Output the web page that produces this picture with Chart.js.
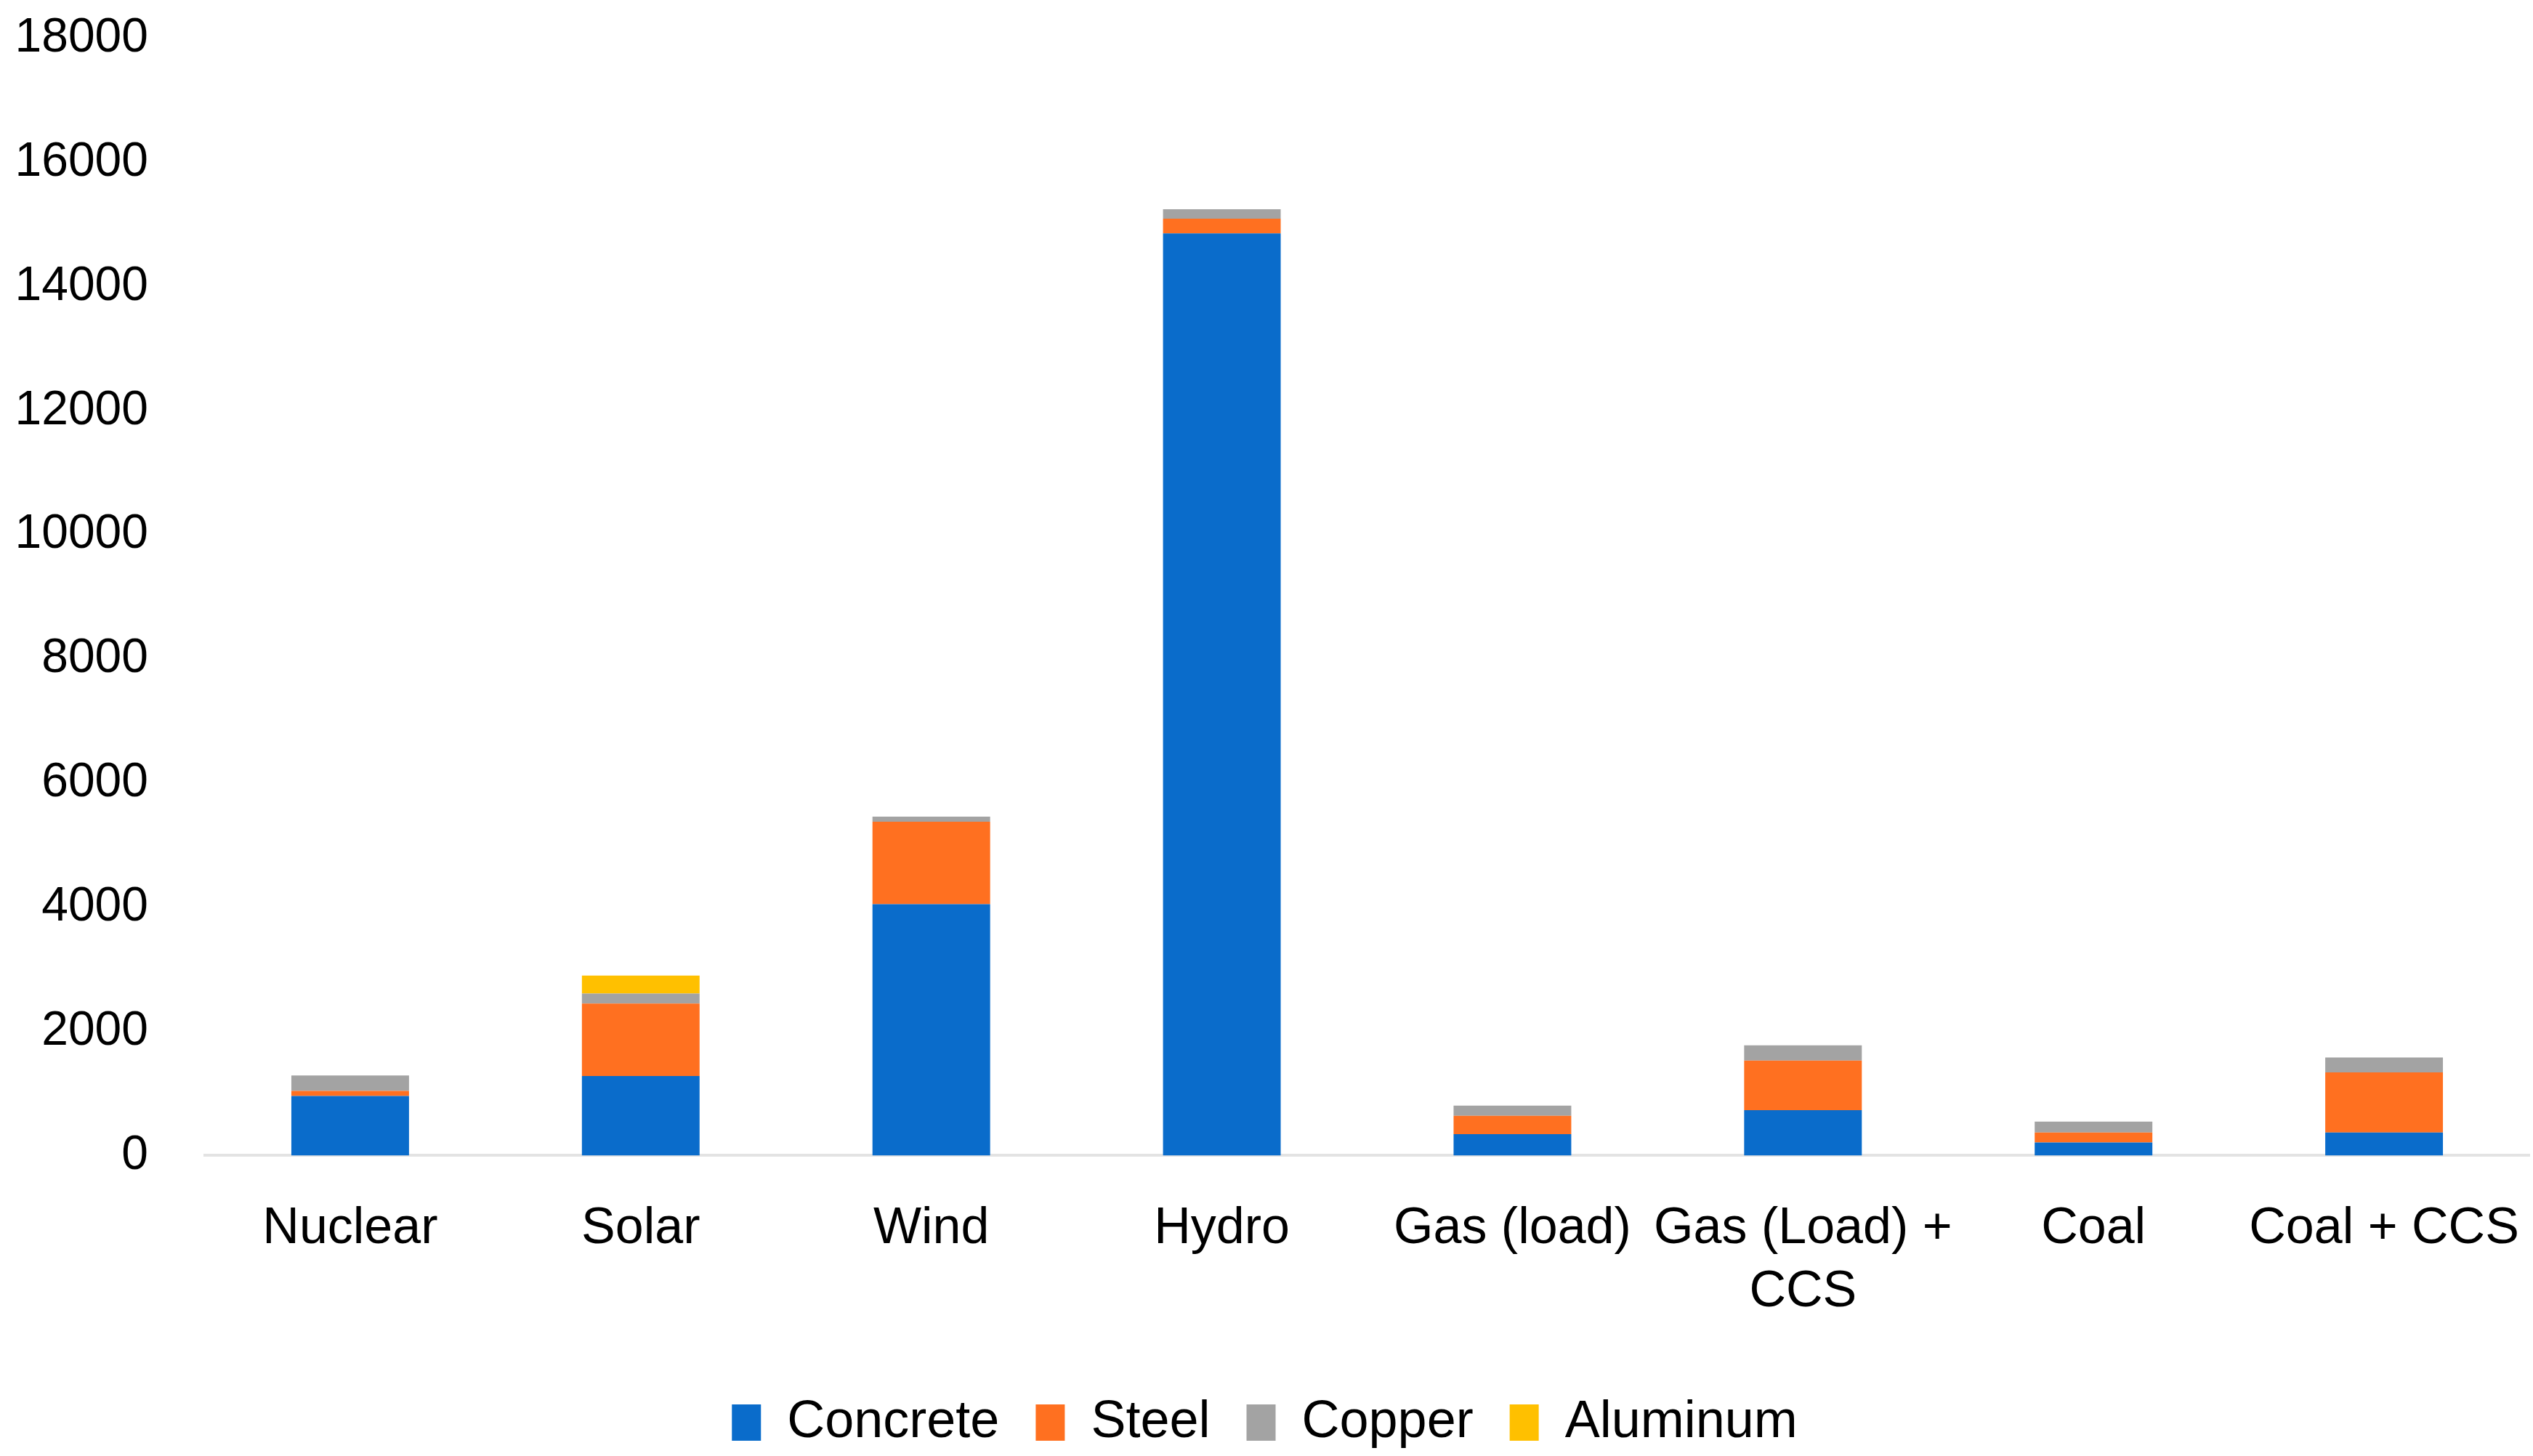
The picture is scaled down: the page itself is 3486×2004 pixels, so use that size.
<!DOCTYPE html>
<html>
<head>
<meta charset="utf-8">
<script src="https://cdn.jsdelivr.net/npm/chart.js@4.4.1/dist/chart.umd.min.js"></script>
<style>
  html, body { margin: 0; padding: 0; background: #ffffff; }
  #wrap { width: 3486px; height: 2004px; }
</style>
</head>
<body>
<div id="wrap"><canvas id="chart"></canvas></div>
<script>
// -------------------------------
// Data
// -------------------------------
const categories = ["Nuclear", "Solar", "Wind", "Hydro", "Gas (load)", ["Gas (Load) +", "CCS"], "Coal", "Coal + CCS"];
const concrete = [960, 1280, 4050, 14860, 345, 730, 210, 370];
const steel    = [80, 1170, 1330, 235, 295, 800, 160, 970];
const copper   = [250, 160, 80, 155, 165, 245, 175, 240];
const aluminum = [0, 290, 0, 0, 0, 0, 0, 0];
const yTicks = [0, 2000, 4000, 6000, 8000, 10000, 12000, 14000, 16000, 18000];

const font = "'Liberation Sans', Arial, sans-serif";

function makeSet(label, data, color) {
  return {
    label: label,
    data: data,
    backgroundColor: color,
    borderWidth: 0,
    barPercentage: 0.405,
    categoryPercentage: 1.0,
  };
}

// -------------------------------
// Stacked bar chart
// -------------------------------
const ctx = document.getElementById("chart").getContext("2d");

new Chart(ctx, {
  type: "bar",
  data: {
    labels: categories,
    datasets: [
      makeSet("Concrete", concrete, "#0a6ccb"),
      makeSet("Steel", steel, "#ff7020"),
      makeSet("Copper", copper, "#a3a3a3"),
      makeSet("Aluminum", aluminum, "#ffc000"),
    ],
  },
  options: {
    responsive: true,
    maintainAspectRatio: false,
    animation: false,
    layout: { padding: { left: 0, right: 5, top: 53, bottom: 0 } },
    plugins: {
      tooltip: { enabled: false },
      legend: {
        position: "bottom",
        labels: {
          font: { family: font, size: 72 },
          color: "#000000",
          boxWidth: 40,
          boxHeight: 50,
          padding: 50,
        },
      },
    },
    scales: {
      x: {
        stacked: true,
        grid: { display: false },
        border: { display: true, color: "#e3e3e3", width: 4 },
        ticks: {
          color: "#000000",
          font: { family: font, size: 70, lineHeight: 1.24 },
          padding: 50,
          maxRotation: 0,
          autoSkip: false,
        },
        afterFit: (scale) => {
          scale.paddingLeft = 0;
          scale.paddingRight = 0;
        },
      },
      y: {
        stacked: true,
        min: 0,
        max: 18000,
        grid: { display: false },
        border: { display: false },
        afterBuildTicks: (scale) => {
          scale.ticks = yTicks.map((v) => ({ value: v }));
        },
        afterFit: (scale) => {
          scale.width = 282;
          scale.paddingTop = 0;
          scale.paddingBottom = 0;
        },
        ticks: {
          color: "#000000",
          font: { family: font, size: 66 },
          padding: 70,
          callback: (v) => String(v),
        },
      },
    },
  },
});
</script>
</body>
</html>
